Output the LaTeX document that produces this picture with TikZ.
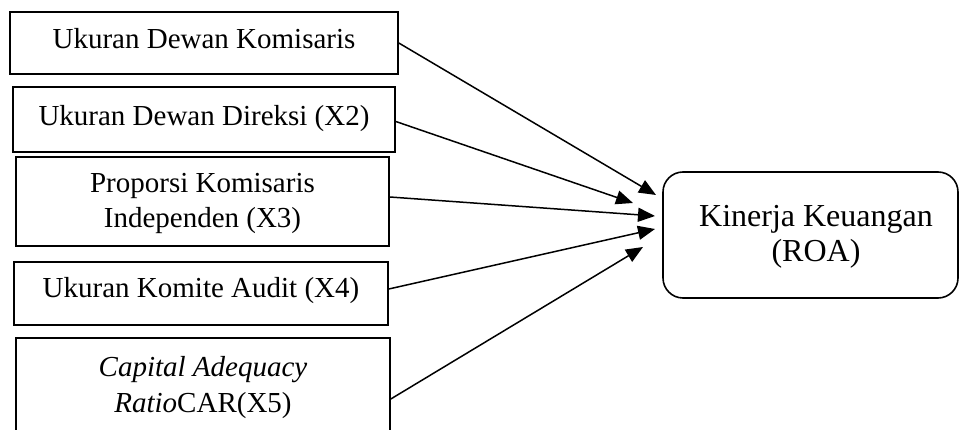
\documentclass[tikz,border=0pt]{standalone}
\usepackage{fontspec}
\setmainfont{Liberation Serif}
\usetikzlibrary{arrows.meta}
\begin{document}
\begin{tikzpicture}[x=1pt,y=-1pt,
  box/.style={draw, line width=1.6pt, inner sep=0pt},
  lbl/.style={inner sep=0pt, anchor=base, font=\fontsize{29}{35}\selectfont, align=center},
  rlbl/.style={lbl, font=\fontsize{32}{35}\selectfont},
  arr/.style={line width=1.5pt, -{Triangle[length=17pt,width=14pt]}}]
\useasboundingbox (0,0) rectangle (959,430);
\begin{scope}
\clip (0,0) rectangle (959,430);
\node[box, minimum width=388pt, minimum height=62pt] (b1) at (204,43) {};
\node[box, minimum width=382pt, minimum height=65pt] (b2) at (204,119.5) {};
\node[box, minimum width=373pt, minimum height=89pt] (b3) at (202.5,201.5) {};
\node[box, minimum width=374pt, minimum height=63pt] (b4) at (201,293.5) {};
\node[box, minimum width=374pt, minimum height=110pt] (b5) at (203,393) {};
\node[box, rounded corners=20pt, minimum width=295pt, minimum height=126pt] (roa) at (810.5,235) {};
\end{scope}
\node[lbl] (l1) at (204,49) {Ukuran Dewan Komisaris};
\node[lbl] (l2) at (204,126) {Ukuran Dewan Direksi (X2)};
\node[lbl] (l3a) at (202.5,193) {Proporsi Komisaris};
\node[lbl] (l3b) at (202.5,228) {Independen (X3)};
\node[lbl] (l4) at (201,298) {Ukuran Komite Audit (X4)};
\node[lbl] (l5a) at (203,377) {\itshape Capital Adequacy};
\node[lbl] (l5b) at (203,412) {\textit{Ratio}CAR(X5)};
\node[rlbl] (r1) at (816,227) {Kinerja Keuangan};
\node[rlbl] (r2) at (816,262) {(ROA)};
\coordinate (t1) at (656,195);
\coordinate (t2) at (633,203);
\coordinate (t3) at (655,216);
\coordinate (t4) at (655,229);
\coordinate (t5) at (643,247);
\draw[arr] (b1.east) -- (t1);
\draw[arr] ([yshift=-2pt]b2.east) -- (t2);
\draw[arr] ([yshift=4.5pt]b3.east) -- (t3);
\draw[arr] ([yshift=4.5pt]b4.east) -- (t4);
\draw[arr] ([yshift=-6pt]b5.east) -- (t5);
\end{tikzpicture}
\end{document}
